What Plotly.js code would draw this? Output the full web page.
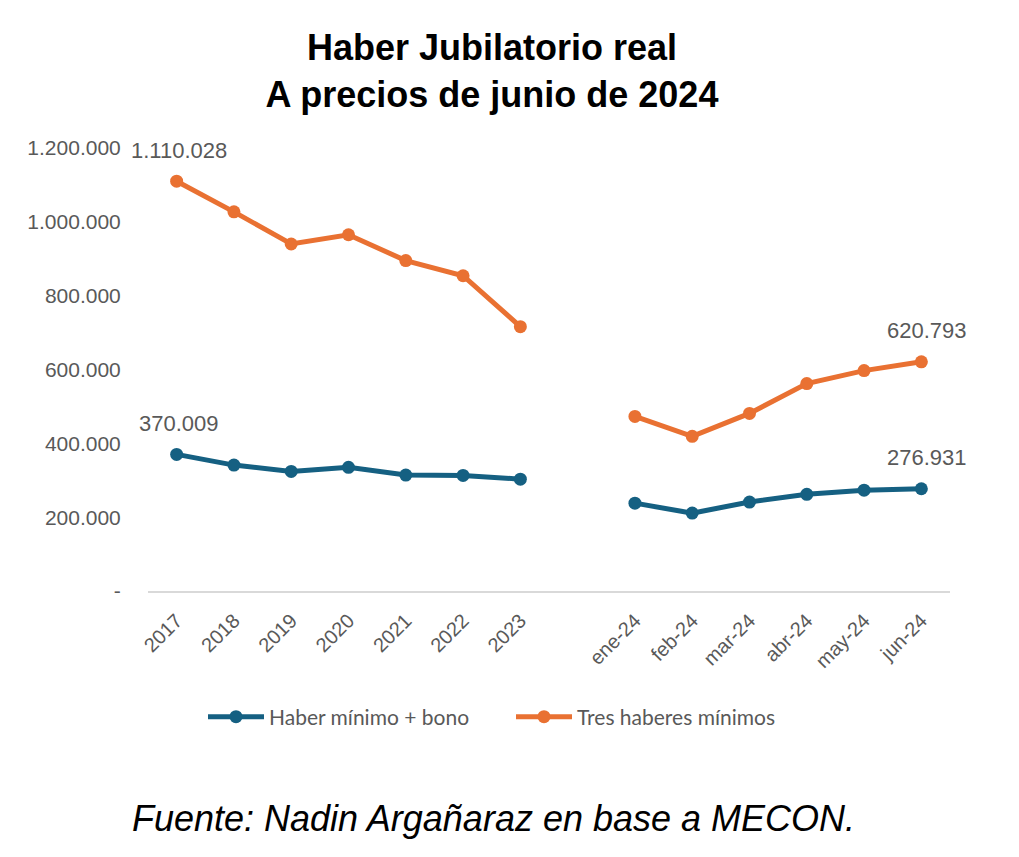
<!DOCTYPE html>
<html>
<head>
<meta charset="utf-8">
<script src="https://cdn.plot.ly/plotly-3.0.1.min.js"></script>
<style>html,body{margin:0;padding:0;background:#fff;}#chart{width:1019px;height:857px;}</style>
</head>
<body>
<div id="chart"></div>
<script>
// Categories (a blank slot separates the yearly and monthly parts)
const categories = ['2017','2018','2019','2020','2021','2022','2023',' ','ene-24','feb-24','mar-24','abr-24','may-24','jun-24'];
// Haber mínimo + bono
const haberBono = [370009, 341000, 324000, 335000, 314000, 313000, 303000, null, 238000, 211000, 241000, 262000, 273000, 276931];
// Tres haberes mínimos
const tresHaberes = [1110028, 1027000, 940000, 965000, 895000, 854000, 716000, null, 473000, 419000, 481000, 562000, 597000, 620793];
const seriesNames = ['Haber mínimo + bono', 'Tres haberes mínimos'];
const yTickVals = [0, 200000, 400000, 600000, 800000, 1000000, 1200000];
const yTickText = ['-', '200.000', '400.000', '600.000', '800.000', '1.000.000', '1.200.000'];
const labelIdx = [0, 13];

const blue = '#156082';
const orange = '#E97132';
const grey = '#595959';

function fmt(v){ return String(v).replace(/\B(?=(\d{3})+(?!\d))/g, '.'); }

const traces = [
  {x: categories, y: haberBono, name: seriesNames[0], type: 'scatter', mode: 'lines+markers',
   connectgaps: false, line: {color: blue, width: 5}, marker: {color: blue, size: 13}},
  {x: categories, y: tresHaberes, name: seriesNames[1], type: 'scatter', mode: 'lines+markers',
   connectgaps: false, line: {color: orange, width: 5}, marker: {color: orange, size: 13}}
];

const annotations = [];
[haberBono, tresHaberes].forEach(arr => {
  labelIdx.forEach(i => {
    annotations.push({x: i, y: arr[i], xref: 'x', yref: 'y', text: fmt(arr[i]),
      showarrow: false, yshift: 31, xshift: (i === 0 ? 2 : 6), font: {family: 'Liberation Sans, Arial, sans-serif', size: 22, color: grey}});
  });
});
annotations.push({xref: 'paper', yref: 'paper', x: (493-148)/802, y: (591-818)/443, xanchor: 'center', yanchor: 'middle',
  text: '<i>Fuente: Nadin Argañaraz en base a MECON.</i>', showarrow: false,
  font: {family: 'Liberation Sans, Arial, sans-serif', size: 36, color: '#000'}});

const layout = {
  width: 1019, height: 857,
  margin: {l: 148, r: 69, t: 148, b: 266},
  paper_bgcolor: '#fff', plot_bgcolor: '#fff',
  showlegend: true,
  title: {text: '<b>Haber Jubilatorio real<br>A precios de junio de 2024</b>',
    x: 492/1019, xanchor: 'center', xref: 'container', y: 0.930, yanchor: 'top', yref: 'container',
    font: {family: 'Liberation Sans, Arial, sans-serif', size: 36, color: '#000'}},
  xaxis: {type: 'category', categoryorder: 'array', categoryarray: categories, range: [-0.5, categories.length - 0.5],
    showgrid: false, zeroline: false, showline: true, linecolor: '#D9D9D9', linewidth: 2,
    tickangle: -45, ticks: 'outside', ticklen: 8, tickcolor: 'rgba(0,0,0,0)',
    tickfont: {family: 'Liberation Sans, Arial, sans-serif', size: 20, color: grey}},
  yaxis: {range: [0, 1200000], tickvals: yTickVals, ticktext: yTickText, showgrid: false, zeroline: false,
    showline: false, ticks: 'outside', ticklen: 22, tickcolor: 'rgba(0,0,0,0)',
    tickfont: {family: 'Liberation Sans, Arial, sans-serif', size: 21, color: grey}},
  legend: {orientation: 'h', x: (511-148)/802, xanchor: 'center', y: (591-717)/443, yanchor: 'middle',
    itemwidth: 56, traceorder: 'normal', entrywidth: 237,
    font: {family: 'Lato, sans-serif', size: 21, color: grey}},
  annotations: annotations
};

Plotly.newPlot('chart', traces, layout, {displayModeBar: false, staticPlot: true});
</script>
</body>
</html>
